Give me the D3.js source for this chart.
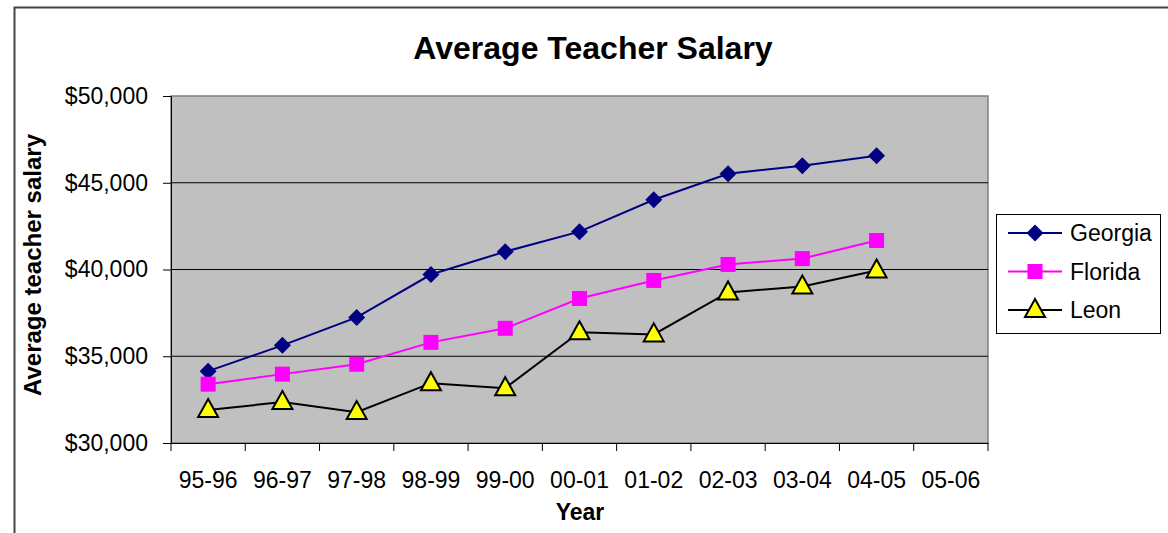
<!DOCTYPE html>
<html>
<head>
<meta charset="utf-8">
<script src="https://cdn.jsdelivr.net/npm/d3@7"></script>
<style>
  body { margin: 0; background: #fff; }
  text { font-family: "Liberation Sans", Arial, sans-serif; }
</style>
</head>
<body>
<svg id="chart" width="1168" height="533"></svg>
<script>
"use strict";

// categories on the x axis
let years = ['95-96', '96-97', '97-98', '98-99', '99-00', '00-01', '01-02', '02-03', '03-04', '04-05', '05-06'];

// salary values per series (no value for 05-06)
let georgia = [34140, 35630, 37240, 39710, 41030, 42180, 44020, 45520, 45980, 46550];
let florida = [33390, 33970, 34540, 35800, 36610, 38330, 39370, 40290, 40630, 41670];
let leon    = [31900, 32360, 31780, 33450, 33160, 36380, 36260, 38680, 39020, 39940];

let yTicks = [30000, 35000, 40000, 45000, 50000];

let series = [
    { name: 'Georgia', values: georgia, line: '#000080', fill: '#000080', marker: 'diamond' },
    { name: 'Florida', values: florida, line: '#ff00ff', fill: '#ff00ff', marker: 'square' },
    { name: 'Leon',    values: leon,    line: '#000000', fill: '#ffff00', marker: 'triangle' }
];

let svg = d3.select('#chart');

let plot = { left: 171, top: 96, right: 988, bottom: 443 };

let x = d3.scaleBand()
    .domain(years)
    .range([plot.left, plot.right]);

let y = d3.scaleLinear()
    .domain([30000, 50000])
    .range([plot.bottom, plot.top]);

// outer chart border
svg.append('rect')
    .attr('x', 14.5).attr('y', 7.5)
    .attr('width', 1170).attr('height', 540)
    .style('fill', 'none')
    .style('stroke', '#444')
    .style('stroke-width', 2);

// plot background
svg.append('rect')
    .attr('x', plot.left).attr('y', plot.top)
    .attr('width', plot.right - plot.left)
    .attr('height', plot.bottom - plot.top)
    .style('fill', '#c0c0c0')
    .style('stroke', '#808080')
    .style('stroke-width', 1.5);

// gridlines
svg.append('g')
    .selectAll('line')
    .data(yTicks.slice(1, -1))
    .enter()
    .append('line')
    .attr('x1', plot.left).attr('x2', plot.right)
    .attr('y1', function (d) { return y(d); })
    .attr('y2', function (d) { return y(d); })
    .style('stroke', '#000')
    .style('stroke-width', 1);

// y axis
let yAxis = svg.append('g')
    .attr('transform', 'translate(' + plot.left + ',0)')
    .call(d3.axisLeft(y)
        .tickValues(yTicks)
        .tickSize(8)
        .tickFormat(d3.format('$,')));
yAxis.select('.domain').style('stroke', '#000');
yAxis.selectAll('.tick line').style('stroke', '#000');
yAxis.selectAll('text')
    .attr('x', -23)
    .style('font-size', '23px')
    .style('fill', '#000');

// x axis, ticks between categories
let xAxis = svg.append('g')
    .attr('transform', 'translate(0,' + plot.bottom + ')')
    .call(d3.axisBottom(x).tickSize(0).tickPadding(29));
xAxis.select('.domain').style('stroke', '#000');
xAxis.selectAll('text')
    .style('font-size', '23px')
    .style('fill', '#000');
xAxis.selectAll('.sep')
    .data(d3.range(years.length + 1))
    .enter()
    .append('line')
    .attr('class', 'sep')
    .attr('x1', function (i) { return plot.left + i * x.step(); })
    .attr('x2', function (i) { return plot.left + i * x.step(); })
    .attr('y1', 0).attr('y2', 8)
    .style('stroke', '#000');

// marker paths
function markerPath(type) {
    if (type === 'diamond') return 'M0,-8.5L8.5,0L0,8.5L-8.5,0Z';
    if (type === 'square') return 'M-7.5,-7.5L7.5,-7.5L7.5,7.5L-7.5,7.5Z';
    return 'M0,-11L10,7L-10,7Z';
}

let line = d3.line()
    .x(function (d, i) { return x(years[i]) + x.bandwidth() / 2; })
    .y(function (d) { return y(d); });

series.forEach(function (s) {
    svg.append('path')
        .datum(s.values)
        .attr('d', line)
        .style('fill', 'none')
        .style('stroke', s.line)
        .style('stroke-width', 2);

    svg.append('g')
        .selectAll('path')
        .data(s.values)
        .enter()
        .append('path')
        .attr('transform', function (d, i) {
            return 'translate(' + (x(years[i]) + x.bandwidth() / 2) + ',' + y(d) + ')';
        })
        .attr('d', markerPath(s.marker))
        .style('fill', s.fill)
        .style('stroke', s.marker === 'triangle' ? '#000' : 'none')
        .style('stroke-width', 2);
});

// title and axis titles
svg.append('text')
    .attr('x', 593).attr('y', 59)
    .style('text-anchor', 'middle')
    .style('font-size', '32px')
    .style('font-weight', 'bold')
    .text('Average Teacher Salary');

svg.append('text')
    .attr('transform', 'translate(41,265) rotate(-90)')
    .style('text-anchor', 'middle')
    .style('font-size', '24px')
    .style('font-weight', 'bold')
    .text('Average teacher salary');

svg.append('text')
    .attr('x', 580).attr('y', 520)
    .style('text-anchor', 'middle')
    .style('font-size', '23px')
    .style('font-weight', 'bold')
    .text('Year');

// legend
let legend = svg.append('g');
legend.append('rect')
    .attr('x', 996.5).attr('y', 214.5)
    .attr('width', 164).attr('height', 119)
    .style('fill', '#fff')
    .style('stroke', '#000')
    .style('stroke-width', 1);

let items = legend.selectAll('.item')
    .data(series)
    .enter()
    .append('g')
    .attr('class', 'item')
    .attr('transform', function (d, i) { return 'translate(1035,' + (233 + i * 38.5) + ')'; });

items.append('line')
    .attr('x1', -27).attr('x2', 27)
    .style('stroke', function (d) { return d.line; })
    .style('stroke-width', 2);
items.append('path')
    .attr('d', function (d) { return markerPath(d.marker); })
    .style('fill', function (d) { return d.fill; })
    .style('stroke', function (d) { return d.marker === 'triangle' ? '#000' : 'none'; })
    .style('stroke-width', 2);
items.append('text')
    .attr('x', 35)
    .attr('dy', '0.35em')
    .style('font-size', '23px')
    .text(function (d) { return d.name; });
</script>
</body>
</html>
